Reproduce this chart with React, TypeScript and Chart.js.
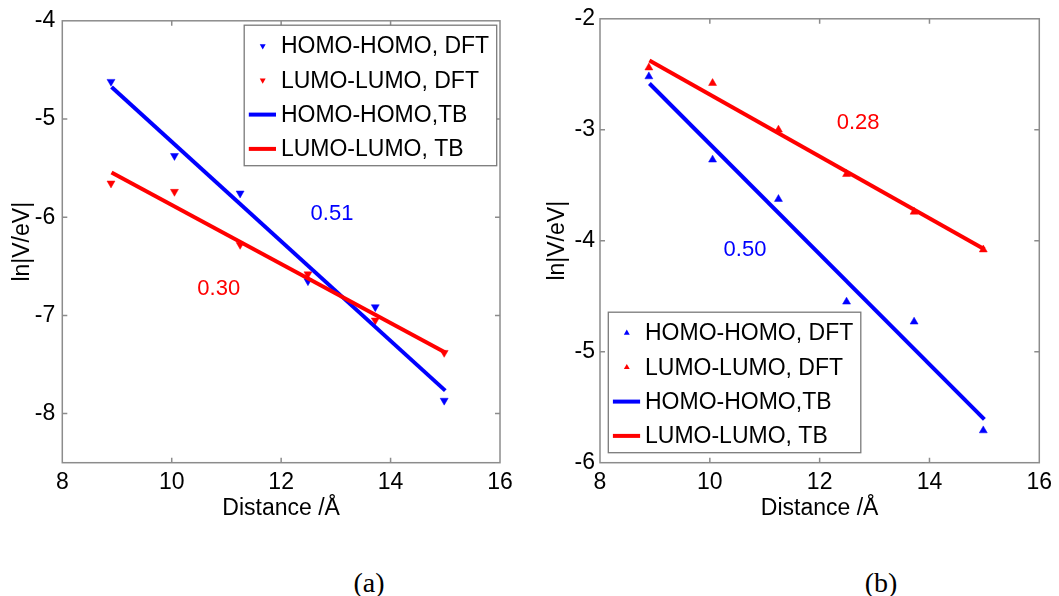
import React, { useEffect, useRef } from "react";
import { Chart, registerables } from "chart.js";

Chart.register(...registerables);

// Dimer separations (Å) at which the couplings were computed
const distances = [8.89, 10.05, 11.25, 12.49, 13.72, 14.98];
// End points of the tight-binding fit lines
const fitDistances = [8.9, 15.0];
const xTicks = [8, 10, 12, 14, 16];

// Panel (a)
const homoDftA = [-4.62, -5.375, -5.757, -6.65, -6.915, -7.867];
const lumoDftA = [-5.655, -5.74, -6.28, -6.58, -7.05, -7.38];
const homoTbA = [-4.675, -7.766];
const lumoTbA = [-5.544, -7.378];
const yTicksA = [-4, -5, -6, -7, -8];
const slopeLabelsA = ["0.51", "0.30"];

// Panel (b)
const homoDftB = [-2.52, -3.27, -3.625, -4.55, -4.73, -5.71];
const lumoDftB = [-2.44, -2.58, -3.0, -3.4, -3.74, -4.08];
const homoTbB = [-2.583, -5.61];
const lumoTbB = [-2.375, -4.076];
const yTicksB = [-2, -3, -4, -5, -6];
const slopeLabelsB = ["0.50", "0.28"];

const legendLabels = ["HOMO-HOMO, DFT", "LUMO-LUMO, DFT", "HOMO-HOMO,TB", "LUMO-LUMO, TB"];

const BLUE = "#0000ff";
const RED = "#ff0000";
const FONT = "'Liberation Sans', Arial, Helvetica, sans-serif";
const FONT_SIZE = 23;

const toPoints = (xs: number[], ys: number[]) => xs.map((x, i) => ({ x, y: ys[i] }));

// Grey axes box with inward tick marks on all four sides
const framePlugin = {
  id: "frame",
  beforeDatasetsDraw(chart: any) {
    const { ctx, chartArea: a, scales } = chart;
    ctx.save();
    ctx.strokeStyle = "#8c8c8c";
    ctx.lineWidth = 1.5;
    ctx.strokeRect(a.left, a.top, a.right - a.left, a.bottom - a.top);
    const len = 5;
    ctx.beginPath();
    scales.x.ticks.forEach((t: any) => {
      const px = scales.x.getPixelForValue(t.value);
      if (px <= a.left + 1 || px >= a.right - 1) return;
      ctx.moveTo(px, a.bottom);
      ctx.lineTo(px, a.bottom - len);
      ctx.moveTo(px, a.top);
      ctx.lineTo(px, a.top + len);
    });
    scales.y.ticks.forEach((t: any) => {
      const py = scales.y.getPixelForValue(t.value);
      if (py <= a.top + 1 || py >= a.bottom - 1) return;
      ctx.moveTo(a.left, py);
      ctx.lineTo(a.left + len, py);
      ctx.moveTo(a.right, py);
      ctx.lineTo(a.right - len, py);
    });
    ctx.stroke();
    ctx.restore();
  },
};

function drawTriangle(ctx: CanvasRenderingContext2D, x: number, y: number, r: number, down: boolean) {
  const s = down ? -1 : 1;
  ctx.beginPath();
  ctx.moveTo(x, y - s * r);
  ctx.lineTo(x + r * 0.866, y + s * r * 0.5);
  ctx.lineTo(x - r * 0.866, y + s * r * 0.5);
  ctx.closePath();
  ctx.fill();
}

// Boxed legend placed inside the plot area
const legendBoxPlugin = {
  id: "legendBox",
  afterDatasetsDraw(chart: any, _args: any, opts: any) {
    const { ctx, chartArea: a } = chart;
    const w = 252.5;
    const h = 140.5;
    const x0 = opts.corner === "topRight" ? a.right - 3.3 - w : a.left + 8.3;
    const y0 = opts.corner === "topRight" ? a.top + 4.4 : a.bottom - 10 - h;
    ctx.save();
    ctx.fillStyle = "#ffffff";
    ctx.fillRect(x0, y0, w, h);
    ctx.strokeStyle = "#7a7a7a";
    ctx.lineWidth = 1.3;
    ctx.strokeRect(x0, y0, w, h);
    const colors = [BLUE, RED, BLUE, RED];
    ctx.font = `${FONT_SIZE}px ${FONT}`;
    ctx.textBaseline = "middle";
    ctx.textAlign = "left";
    legendLabels.forEach((label, i) => {
      const cy = y0 + 20.8 + i * 34.3;
      if (i < 2) {
        ctx.fillStyle = colors[i];
        drawTriangle(ctx, x0 + 18.5, cy, 3.4, opts.down);
      } else {
        ctx.strokeStyle = colors[i];
        ctx.lineWidth = 4;
        ctx.beginPath();
        ctx.moveTo(x0 + 4.6, cy);
        ctx.lineTo(x0 + 31.8, cy);
        ctx.stroke();
      }
      ctx.fillStyle = "#000000";
      ctx.fillText(label, x0 + 36.7, cy + 1);
    });
    ctx.restore();
  },
};

// Slope labels placed at data coordinates
const slopeTextPlugin = {
  id: "slopeText",
  afterDatasetsDraw(chart: any, _args: any, opts: any) {
    const { ctx, scales } = chart;
    ctx.save();
    ctx.font = `${FONT_SIZE - 1}px ${FONT}`;
    ctx.textAlign = "center";
    ctx.textBaseline = "middle";
    (opts.items || []).forEach((it: any) => {
      ctx.fillStyle = it.color;
      ctx.fillText(it.text, scales.x.getPixelForValue(it.x), scales.y.getPixelForValue(it.y) + 1);
    });
    ctx.restore();
  },
};

type PanelSpec = {
  width: number;
  height: number;
  padding: { left: number; top: number; right: number; bottom: number };
  yAxisWidth: number;
  yTitlePad: number;
  yTickPad: number;
  yMin: number;
  yMax: number;
  yTicks: number[];
  homoDft: number[];
  lumoDft: number[];
  homoTb: number[];
  lumoTb: number[];
  down: boolean;
  corner: string;
  slopes: { text: string; x: number; y: number; color: string }[];
};

function buildConfig(p: PanelSpec): any {
  const marker = (data: number[], color: string) => ({
    data: toPoints(distances, data),
    showLine: false,
    pointStyle: "triangle",
    rotation: p.down ? 180 : 0,
    pointRadius: 4.6,
    pointBorderWidth: 0.5,
    backgroundColor: color,
    borderColor: color,
  });
  const fit = (data: number[], color: string) => ({
    data: toPoints(fitDistances, data),
    showLine: true,
    pointRadius: 0,
    borderWidth: 4,
    borderColor: color,
    backgroundColor: color,
    borderCapStyle: "butt",
  });
  const tickFont = { family: FONT, size: FONT_SIZE };
  return {
    type: "scatter",
    data: {
      datasets: [
        fit(p.lumoTb, RED),
        fit(p.homoTb, BLUE),
        marker(p.lumoDft, RED),
        marker(p.homoDft, BLUE),
      ],
    },
    options: {
      responsive: false,
      animation: false,
      devicePixelRatio: 1,
      layout: { padding: p.padding },
      plugins: {
        legend: { display: false },
        tooltip: { enabled: false },
        legendBox: { corner: p.corner, down: p.down },
        slopeText: { items: p.slopes },
      },
      scales: {
        x: {
          type: "linear",
          min: 8,
          max: 16,
          afterBuildTicks: (s: any) => {
            s.ticks = xTicks.map((v) => ({ value: v }));
          },
          afterFit: (s: any) => {
            s.height = 67.3;
          },
          grid: { display: false, drawTicks: false },
          border: { display: false },
          ticks: {
            padding: 6.2,
            color: "#000",
            font: tickFont,
            maxRotation: 0,
            autoSkip: false,
            callback: (v: number) => String(v),
          },
          title: {
            display: true,
            text: "Distance /Å",
            color: "#000",
            font: tickFont,
            padding: 7.2,
          },
        },
        y: {
          type: "linear",
          min: p.yMin,
          max: p.yMax,
          afterBuildTicks: (s: any) => {
            s.ticks = p.yTicks.map((v) => ({ value: v }));
          },
          afterFit: (s: any) => {
            s.width = p.yAxisWidth;
          },
          grid: { display: false, drawTicks: false },
          border: { display: false },
          ticks: {
            padding: p.yTickPad,
            color: "#000",
            font: tickFont,
            autoSkip: false,
            callback: (v: number) => String(v),
          },
          title: {
            display: true,
            text: "ln|V/eV|",
            color: "#000",
            font: tickFont,
            padding: p.yTitlePad,
          },
        },
      },
    },
    plugins: [framePlugin, legendBoxPlugin, slopeTextPlugin],
  };
}

function Panel({ spec, left }: { spec: PanelSpec; left: number }) {
  const ref = useRef<HTMLCanvasElement>(null);
  useEffect(() => {
    const chart = new Chart(ref.current as HTMLCanvasElement, buildConfig(spec));
    return () => chart.destroy();
  }, []);
  return (
    <canvas
      ref={ref}
      width={spec.width}
      height={spec.height}
      style={{ position: "absolute", left, top: 0, width: spec.width, height: spec.height }}
    />
  );
}

const panelA: PanelSpec = {
  width: 530,
  height: 530,
  padding: { left: 0, top: 18.3, right: 30, bottom: 0 },
  yAxisWidth: 62.3,
  yTitlePad: 8.7,
  yTickPad: 7,
  yMin: -8.5,
  yMax: -4,
  yTicks: yTicksA,
  homoDft: homoDftA,
  lumoDft: lumoDftA,
  homoTb: homoTbA,
  lumoTb: lumoTbA,
  down: true,
  corner: "topRight",
  slopes: [
    { text: slopeLabelsA[0], x: 12.93, y: -5.96, color: BLUE },
    { text: slopeLabelsA[1], x: 10.86, y: -6.72, color: RED },
  ],
};

const panelB: PanelSpec = {
  width: 529,
  height: 530,
  padding: { left: 0, top: 14.7, right: 19.7, bottom: 0 },
  yAxisWidth: 70,
  yTitlePad: 14.2,
  yTickPad: 5,
  yMin: -6,
  yMax: -2,
  yTicks: yTicksB,
  homoDft: homoDftB,
  lumoDft: lumoDftB,
  homoTb: homoTbB,
  lumoTb: lumoTbB,
  down: false,
  corner: "bottomLeft",
  slopes: [
    { text: slopeLabelsB[0], x: 10.64, y: -4.07, color: BLUE },
    { text: slopeLabelsB[1], x: 12.7, y: -2.925, color: RED },
  ],
};

const captionStyle: React.CSSProperties = {
  position: "absolute",
  top: 566,
  fontFamily: "'Liberation Serif', 'Times New Roman', serif",
  fontSize: 28,
  lineHeight: "34px",
  color: "#000",
  transform: "translateX(-50%)",
  whiteSpace: "nowrap",
};

export default function App() {
  return (
    <div
      style={{
        position: "absolute",
        left: 0,
        top: 0,
        width: 1059,
        height: 596,
        background: "#fff",
        overflow: "hidden",
      }}
    >
      <Panel spec={panelA} left={0} />
      <Panel spec={panelB} left={530} />
      <div style={{ ...captionStyle, left: 369 }}>(a)</div>
      <div style={{ ...captionStyle, left: 881 }}>(b)</div>
    </div>
  );
}
